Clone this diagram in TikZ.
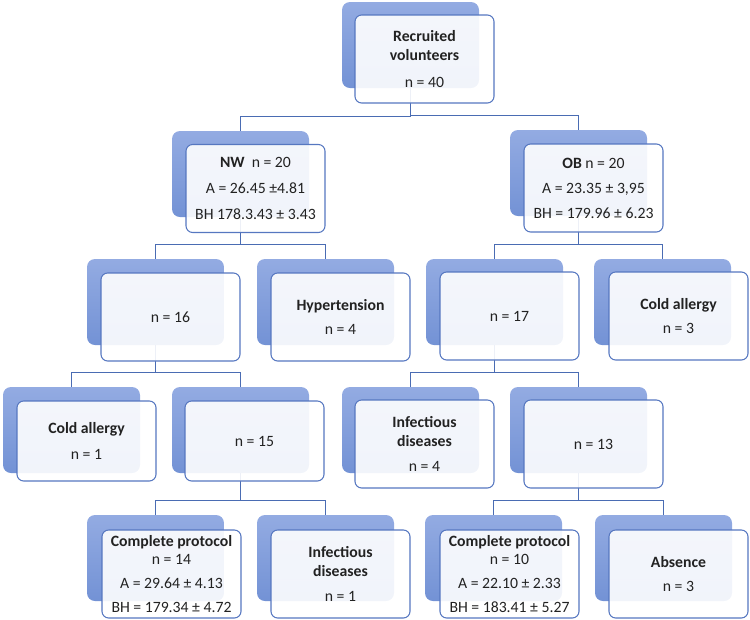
\documentclass[tikz,border=0pt]{standalone}
\usepackage{fontspec}
\setmainfont{Carlito}
\usetikzlibrary{calc}
\definecolor{hierBorde}{HTML}{5677C0}
\definecolor{hierClaro}{HTML}{93ABE2}
\definecolor{hierOscuro}{HTML}{7392D5}
\definecolor{hierLinea}{HTML}{4A6CB3}
\definecolor{hierTexto}{HTML}{222222}

\begin{document}
\begin{tikzpicture}[x=0.75pt,y=-0.75pt,
      sh/.style={rounded corners=6pt, top color=hierClaro, bottom color=hierOscuro,
                 minimum width=102.75pt, minimum height=64.5pt, inner sep=0pt},
      bx/.style={rounded corners=5pt, draw=hierBorde, line width=0.8pt,
                 fill=white, fill opacity=0.9, text opacity=1, text=hierTexto,
                 minimum width=104.25pt, minimum height=#1, inner sep=0pt, align=center},
      bx/.default=66pt,
      ln/.style={draw=hierLinea, line width=1pt,
                 to path={(\tikztostart) |- ($(\tikztotarget)+(0,-14)$) -| (\tikztotarget)}},
      every node/.style={font=\fontsize{11.8}{14.2}\selectfont}]
    \useasboundingbox (0,0) rectangle (750,619);

    \node[sh] (recb)  at (410.5,45)  {};
    \node[sh] (nwb)   at (240.5,174) {};
    \node[sh] (obb)   at (578.5,173) {};
    \node[sh] (n16b)  at (155.5,302) {};
    \node[sh] (hypb)  at (325.5,302) {};
    \node[sh] (n17b)  at (494.5,302) {};
    \node[sh] (ca3b)  at (662.5,302) {};
    \node[sh] (ca1b)  at (71.5,430)  {};
    \node[sh] (n15b)  at (240.5,430) {};
    \node[sh] (inf4b) at (410.5,430) {};
    \node[sh] (n13b)  at (578.5,430) {};
    \node[sh] (cp14b) at (155.5,558) {};
    \node[sh] (inf1b) at (325.5,558) {};
    \node[sh] (cp10b) at (493.5,558) {};
    \node[sh] (absb)  at (663.5,558) {};

    \draw[ln] (recb.south) to (nwb.north);
    \draw[ln] (recb.south) to (obb.north);
    \draw[ln] (nwb.south)  to (n16b.north);
    \draw[ln] (nwb.south)  to (hypb.north);
    \draw[ln] (obb.south)  to (n17b.north);
    \draw[ln] (obb.south)  to (ca3b.north);
    \draw[ln] (n16b.south) to (ca1b.north);
    \draw[ln] (n16b.south) to (n15b.north);
    \draw[ln] (n17b.south) to (inf4b.north);
    \draw[ln] (n17b.south) to (n13b.north);
    \draw[ln] (n15b.south) to (cp14b.north);
    \draw[ln] (n15b.south) to (inf1b.north);
    \draw[ln] (n13b.south) to (cp10b.north);
    \draw[ln] (n13b.south) to (absb.north);

    \node[bx] (rec)  at (424.5,59)  {\textbf{Recruited}\\\textbf{volunteers}\\[6pt]n = 40};
    \node[bx] (nw)   at (255.5,188.5) {\textbf{NW}\ \ n = 20\\[5.5pt]A = 26.45 ±4.81\\[5.5pt]BH 178.3.43 ± 3.43};
    \node[bx] (ob)   at (593.5,188) {\textbf{OB} n = 20\\[4.5pt]A = 23.35 ± 3,95\\[4.5pt]BH = 179.96 ± 6.23};
    \node[bx] (n16)  at (170.5,317) {n = 16};
    \node[bx] (hyp)  at (340.5,317) {\textbf{Hypertension}\\[4.5pt]n = 4};
    \node[bx] (n17)  at (509.5,316) {n = 17};
    \node[bx] (ca3)  at (678.5,316) {\textbf{Cold allergy}\\[4pt]n = 3};
    \node[bx=60pt] (ca1)  at (86.5,441)  {\textbf{Cold allergy}\\[5pt]n = 1};
    \node[bx=60pt] (n15)  at (254.5,441) {n = 15};
    \node[bx] (inf4) at (424.5,444) {\textbf{Infectious}\\\textbf{diseases}\\[4.5pt]n = 4};
    \node[bx] (n13)  at (593.5,444) {n = 13};
    \node[bx] (cp14) at (171.5,574) {\textbf{Complete protocol}\\n = 14\\[3.8pt]A = 29.64 ± 4.13\\[3.8pt]BH = 179.34 ± 4.72};
    \node[bx] (inf1) at (340.5,574) {\textbf{Infectious}\\\textbf{diseases}\\[4.5pt]n = 1};
    \node[bx] (cp10) at (509.5,574) {\textbf{Complete protocol}\\n = 10\\[3.8pt]A = 22.10 ± 2.33\\[3.8pt]BH = 183.41 ± 5.27};
    \node[bx] (abs)  at (678.5,574) {\textbf{Absence}\\[4.5pt]n = 3};
  \end{tikzpicture}
\end{document}
